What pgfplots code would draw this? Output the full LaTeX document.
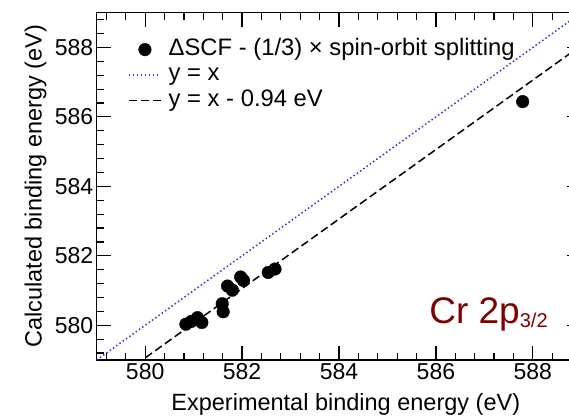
\documentclass[border=0pt]{standalone}
\usepackage{fontspec}
\setmainfont{Liberation Sans}
\usepackage{pgfplots}
\pgfplotsset{compat=1.18}
\definecolor{crred}{RGB}{128,0,0}
\definecolor{dotblue}{RGB}{50,50,235}
\pgfplotsset{
  mylinelegend/.style={legend image code/.code={\draw[##1] (0pt,0pt) -- (32pt,0pt);}},
  mymarklegend/.style={legend image code/.code={\path[draw=none,fill=none] (0pt,0pt) -- (32pt,0pt);\path[##1] plot coordinates {(16pt,0pt)};}},
}
\begin{document}
\begin{tikzpicture}
\begin{axis}[
  scale only axis,
  width=484.6pt, height=347.3pt,
  xmin=579, xmax=589, ymin=579, ymax=589,
  xtick={580,582,584,586,588},
  ytick={580,582,584,586,588},
  minor xtick={579.2,579.6,580.4,580.8,581.2,581.6,582.4,582.8,583.2,583.6,584.4,584.8,585.2,585.6,586.4,586.8,587.2,587.6,588.4,588.8},
  minor ytick={579.2,579.6,580.4,580.8,581.2,581.6,582.4,582.8,583.2,583.6,584.4,584.8,585.2,585.6,586.4,586.8,587.2,587.6,588.4,588.8},
  major tick length=14pt, minor tick length=7pt,
  every tick/.style={line width=1.2pt, black},
  axis line style={line width=1.5pt},
  tick label style={font=\fontsize{23}{27}\selectfont},
  /pgf/number format/assume math mode=true,
  /pgf/number format/1000 sep={},
  xlabel={Experimental binding energy (eV)},
  ylabel={Calculated binding energy (eV)},
  label style={font=\fontsize{23.5}{27}\selectfont},
  xlabel style={at={(axis description cs:0.514,-0.1468)}, anchor=base},
  ylabel style={at={(axis description cs:-0.1135,0.5)}, anchor=base},
  legend style={at={(axis description cs:0.0646,0.931)}, anchor=north west,
    draw=none, fill=none, inner sep=0pt, column sep=6pt,
    font=\fontsize{23.8}{27}\selectfont, row sep=0pt,
    nodes={inner sep=1pt, text height=17.5pt, text depth=6pt}},
  legend cell align=left,
]
\addplot[dotblue, line width=1.5pt, dash pattern=on 1.5pt off 2.5pt, forget plot] coordinates {(579,579) (589,589)};
\addplot[black, line width=1.5pt, dash pattern=on 8pt off 4pt, forget plot] coordinates {(579,578.06) (589,588.06)};
\addplot[only marks, mark=*, mark size=6.3pt, black, mymarklegend]
  coordinates {
  (580.84,580.03) (580.95,580.11) (581.08,580.22) (581.17,580.08)
  (581.59,580.62) (581.61,580.39) (581.70,581.13) (581.80,581.01)
  (581.97,581.39) (582.03,581.29) (582.54,581.52) (582.68,581.62)
  (587.79,586.44)
  };
\addlegendentry{ΔSCF - (1/3) × spin-orbit splitting}
\addlegendimage{dotblue, line width=1.5pt, dash pattern=on 1.5pt off 2.5pt, mylinelegend}
\addlegendentry{y = x}
\addlegendimage{black, line width=1.5pt, dash pattern=on 8pt off 4pt, mylinelegend}
\addlegendentry{y = x - 0.94 eV}
\node[anchor=base west, inner sep=0pt, text=crred, font=\fontsize{37}{40}\selectfont]
  at (axis cs:585.86,580.06) {Cr 2p\raisebox{-4pt}{\fontsize{20}{20}\selectfont 3/2}};
\end{axis}
\pgfresetboundingbox
\path[use as bounding box] ([shift={(-96.7pt,-56pt)}]current axis.south west) rectangle ++(569pt,416pt);
\end{tikzpicture}
\end{document}
